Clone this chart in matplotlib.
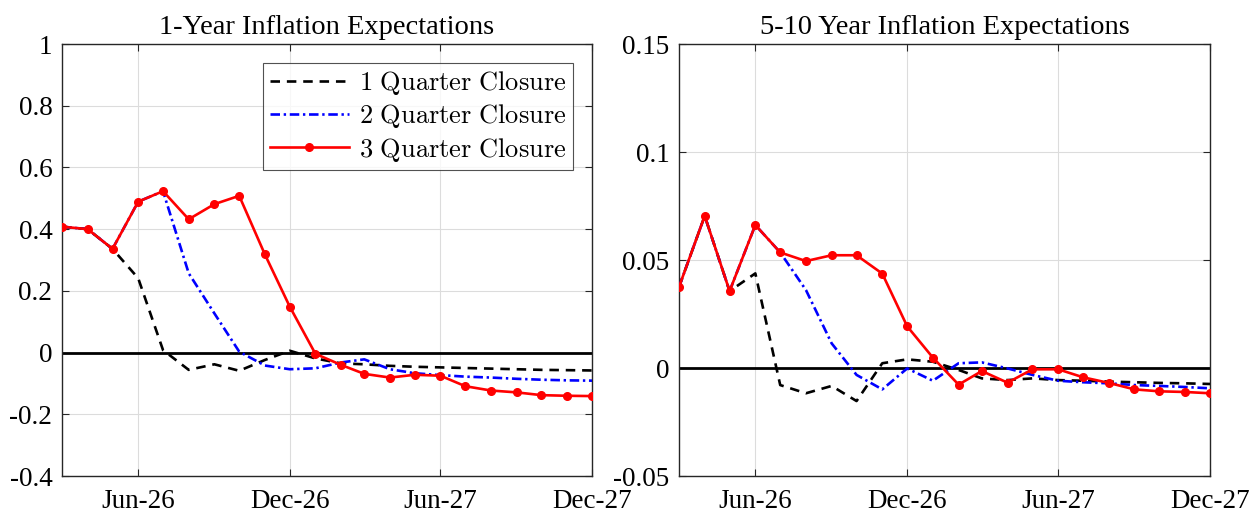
import matplotlib
matplotlib.use("Agg")
import matplotlib.pyplot as plt
import matplotlib.dates as mdates
import pandas as pd

# monthly horizon, Mar-26 .. Dec-27
months = pd.date_range("2026-03-01", periods=22, freq="MS")

# 1-year inflation expectations
one_yr_q1 = [0.408, 0.400, 0.336, 0.241, 0.008, -0.056, -0.038, -0.059, -0.024, 0.006, -0.019,
             -0.035, -0.038, -0.043, -0.046, -0.048, -0.050, -0.052, -0.054, -0.056, -0.057, -0.058]
one_yr_q2 = [0.408, 0.400, 0.336, 0.489, 0.523, 0.257, 0.127, 0.003, -0.042, -0.054, -0.051,
             -0.032, -0.022, -0.054, -0.067, -0.073, -0.078, -0.081, -0.085, -0.088, -0.090, -0.091]
one_yr_q3 = [0.408, 0.400, 0.336, 0.489, 0.523, 0.432, 0.481, 0.508, 0.318, 0.149, -0.004,
             -0.040, -0.069, -0.081, -0.072, -0.075, -0.109, -0.123, -0.129, -0.138, -0.140, -0.141]

# 5-10 year inflation expectations
long_q1 = [0.0375, 0.0704, 0.0356, 0.0438, -0.0079, -0.0117, -0.0083, -0.0153, 0.0022, 0.0040, 0.0029,
           -0.0009, -0.0048, -0.0056, -0.0048, -0.0056, -0.0059, -0.0063, -0.0066, -0.0069, -0.0071, -0.0074]
long_q2 = [0.0375, 0.0704, 0.0356, 0.0662, 0.0535, 0.0361, 0.0114, -0.0032, -0.0099, -0.0002, -0.0059,
           0.0022, 0.0026, -0.0002, -0.0032, -0.0059, -0.0066, -0.0071, -0.0079, -0.0083, -0.0088, -0.0094]
long_q3 = [0.0375, 0.0704, 0.0356, 0.0662, 0.0535, 0.0495, 0.0522, 0.0522, 0.0437, 0.0193, 0.0048,
           -0.0077, -0.0014, -0.0068, -0.0006, -0.0006, -0.0043, -0.0069, -0.0099, -0.0108, -0.0111, -0.0117]

series_names = ["1 Quarter Closure", "2 Quarter Closure", "3 Quarter Closure"]
tick_dates = pd.to_datetime(["2026-06-01", "2026-12-01", "2027-06-01", "2027-12-01"])

plt.rcParams["font.family"] = ["Liberation Serif", "DejaVu Serif"]
plt.rcParams["mathtext.fontset"] = "cm"

fig = plt.figure(figsize=(12.59, 5.18), dpi=100)
ax1 = fig.add_axes([62 / 1259, 42 / 518, 530 / 1259, 432 / 518])
ax2 = fig.add_axes([679 / 1259, 42 / 518, 531 / 1259, 432 / 518])


def draw_panel(ax, q1, q2, q3, title, ylim, yticks, yticklabels):
    ax.axhline(0, color="black", lw=2.0, zorder=2)
    l1, = ax.plot(months, q1, color="black", lw=1.9, ls=(0, (3.6, 2.6)), zorder=3)
    l2, = ax.plot(months, q2, color="blue", lw=1.9, ls=(0, (3.6, 1.4, 0.9, 1.4)), zorder=4)
    l3, = ax.plot(months, q3, color="red", lw=1.9, marker="o", ms=5.5, zorder=5)
    ax.set_xlim(months[0], months[-1])
    ax.set_ylim(*ylim)
    ax.set_yticks(yticks)
    ax.set_yticklabels(yticklabels)
    ax.set_xticks(tick_dates)
    ax.xaxis.set_major_formatter(mdates.DateFormatter("%b-%y"))
    ax.grid(True, color="#dcdcdc", lw=0.8)
    ax.set_axisbelow(True)
    ax.tick_params(direction="in", length=5, width=0.8, labelsize=19.5, color="#262626",
                   top=True, right=True)
    ax.tick_params(axis="x", pad=9)
    ax.tick_params(axis="y", pad=7)
    for s in ax.spines.values():
        s.set_color("#262626")
        s.set_linewidth(1.0)
    ax.set_title(title, fontsize=20.5, pad=7)
    return l1, l2, l3


lines = draw_panel(ax1, one_yr_q1, one_yr_q2, one_yr_q3, "1-Year Inflation Expectations",
                   (-0.4, 1.0), [-0.4, -0.2, 0, 0.2, 0.4, 0.6, 0.8, 1.0],
                   ["-0.4", "-0.2", "0", "0.2", "0.4", "0.6", "0.8", "1"])
draw_panel(ax2, long_q1, long_q2, long_q3, "5-10 Year Inflation Expectations",
           (-0.05, 0.15), [-0.05, 0, 0.05, 0.1, 0.15],
           ["-0.05", "0", "0.05", "0.1", "0.15"])

leg_labels = [r"$\mathrm{" + n.replace(" ", r"\ ") + "}$" for n in series_names]
leg = ax1.legend(lines, leg_labels, loc="upper right", bbox_to_anchor=(0.965, 0.957),
                 fontsize=19, frameon=True, fancybox=False, edgecolor="#262626",
                 handlelength=3.0, handletextpad=0.4, borderpad=0.25, labelspacing=0.2,
                 borderaxespad=0)
leg.get_frame().set_linewidth(0.8)

fig.savefig("out.png", dpi=100)
